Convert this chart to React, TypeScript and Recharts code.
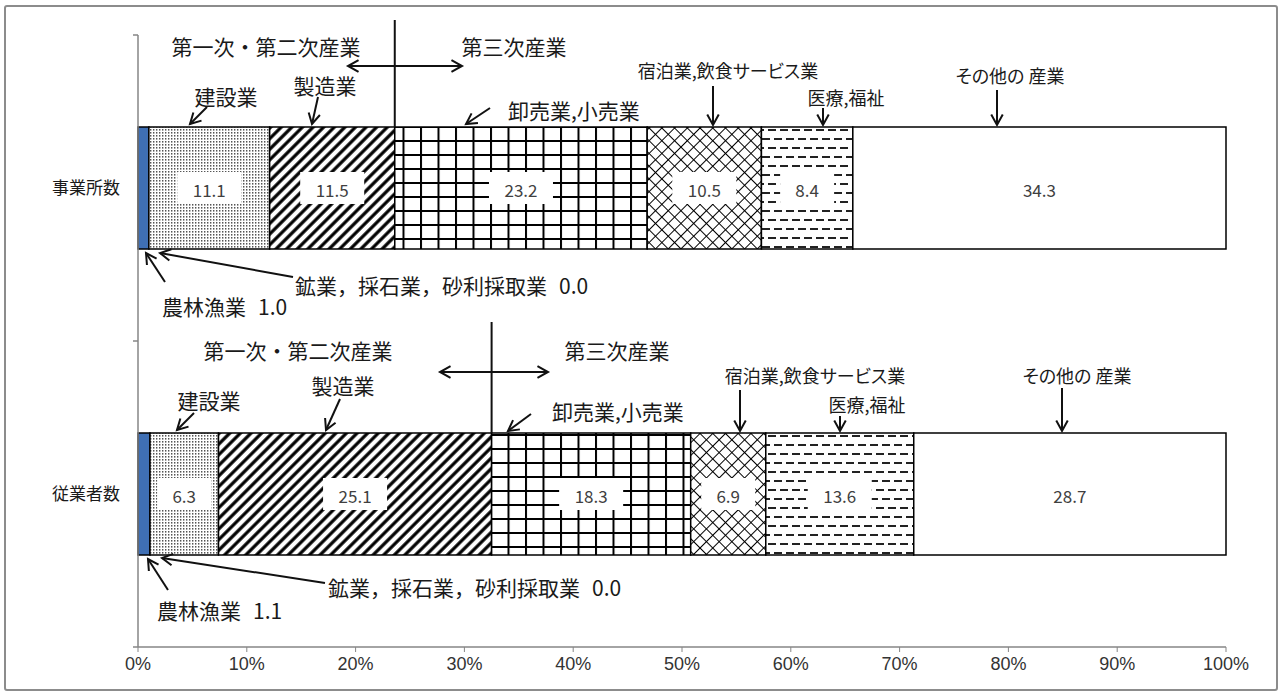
import React from 'react';
import { BarChart, Bar, XAxis, YAxis, LabelList } from 'recharts';

// values (%)
const categories = ['事業所数', '従業者数'];
const agriculture = [1.0, 1.1];
const mining = [0.0, 0.0];
const construction = [11.1, 6.3];
const manufacturing = [11.5, 25.1];
const wholesale = [23.2, 18.3];
const hospitality = [10.5, 6.9];
const medical = [8.4, 13.6];
const others = [34.3, 28.7];
const xTicks = [0, 10, 20, 30, 40, 50, 60, 70, 80, 90, 100];

const data = categories.map((name, i) => ({
  name,
  agriculture: agriculture[i],
  mining: mining[i],
  construction: construction[i],
  manufacturing: manufacturing[i],
  wholesale: wholesale[i],
  hospitality: hospitality[i],
  medical: medical[i],
  others: others[i],
}));

const W = 1283;
const H = 695;
const X_AXIS_H = 30;
const MARGIN = { top: 35, right: 57, bottom: 48 - X_AXIS_H, left: 0 };
const Y_AXIS_W = 138;
const PLOT_L = MARGIN.left + Y_AXIS_W;
const PLOT_R = W - MARGIN.right;
const PLOT_T = MARGIN.top;
const PLOT_B = H - MARGIN.bottom - X_AXIS_H;
const xAt = (v: number) => PLOT_L + (v / 100) * (PLOT_R - PLOT_L);

const FONT = '"Noto Sans CJK JP", "Noto Sans", sans-serif';
const AXIS_GRAY = '#868686';

const BoxLabel = (props: any) => {
  const vb = props.viewBox || props;
  const { x, y, width, height } = vb;
  const value = props.value;
  if (!value || width < 20) return null;
  const text = Number(value).toFixed(1);
  const cx = x + width / 2;
  const cy = y + height / 2;
  const bw = text.length * 10 + 24;
  return (
    <g>
      <rect x={cx - bw / 2} y={cy - 16} width={bw} height={32} fill="#fff" />
      <text x={cx} y={cy + 1} textAnchor="middle" dominantBaseline="central"
        fontSize={17} fill="#404040" fontFamily={FONT}>{text}</text>
    </g>
  );
};

function Arrow({ x1, y1, x2, y2, both = false }: any) {
  const head = 12;
  const s = 0.5;
  const tip = (ax: number, ay: number, bx: number, by: number) => {
    const a = Math.atan2(by - ay, bx - ax);
    const p1 = `${bx - head * Math.cos(a - s)},${by - head * Math.sin(a - s)}`;
    const p2 = `${bx - head * Math.cos(a + s)},${by - head * Math.sin(a + s)}`;
    return <polyline points={`${p1} ${bx},${by} ${p2}`} />;
  };
  return (
    <g stroke="#111" strokeWidth={2} fill="none">
      <line x1={x1} y1={y1} x2={x2} y2={y2} />
      {tip(x1, y1, x2, y2)}
      {both && tip(x2, y2, x1, y1)}
    </g>
  );
}

// annotation text
const T = ({ x, y, anchor = 'middle', size = 21, palt = false, children }: any) => (
  <text x={x} y={y} textAnchor={anchor} dominantBaseline="central"
    fontSize={size} fill="#1a1a1a" fontFamily={FONT}
    style={palt ? { fontFeatureSettings: '"palt"' } : undefined}>{children}</text>
);

// name followed by a value with a gap, e.g. 農林漁業  1.0
const NV = ({ x, y, name, value }: any) => (
  <T x={x} y={y} anchor="start">{name}<tspan dx={12}>{value}</tspan></T>
);

export default function App() {
  // boundary between secondary and tertiary industries, per row
  const split = data.map(d => d.agriculture + d.mining + d.construction + d.manufacturing);
  const top1 = 127;
  const top2 = 433;

  return (
    <div style={{ position: 'fixed', left: 0, top: 0, width: W, height: H, background: '#fff' }}>
      <svg width={0} height={0} style={{ position: 'absolute' }}>
        <defs>
          <pattern id="pDots" patternUnits="userSpaceOnUse" width="3" height="3">
            <rect width="3" height="3" fill="#fff" />
            <rect width="1.4" height="1.6" fill="#555" />
          </pattern>
          <pattern id="pDiag" patternUnits="userSpaceOnUse" width="7.5" height="7.5" patternTransform="rotate(45)">
            <rect width="7.5" height="7.5" fill="#fff" />
            <line x1="3.75" y1="0" x2="3.75" y2="7.5" stroke="#000" strokeWidth="3.2" />
          </pattern>
          <pattern id="pGrid" patternUnits="userSpaceOnUse" width="17.5" height="14">
            <rect width="17.5" height="14" fill="#fff" />
            <rect x="0" y="0" width="2" height="14" fill="#000" />
            <rect x="0" y="0" width="17.5" height="2" fill="#000" />
          </pattern>
          <pattern id="pCross" patternUnits="userSpaceOnUse" width="9" height="9" patternTransform="rotate(45)">
            <rect width="9" height="9" fill="#fff" />
            <line x1="0" y1="0.5" x2="9" y2="0.5" stroke="#000" strokeWidth="1" />
            <line x1="0.5" y1="0" x2="0.5" y2="9" stroke="#000" strokeWidth="1" />
          </pattern>
          <pattern id="pDash" patternUnits="userSpaceOnUse" width="24" height="18">
            <rect width="24" height="18" fill="#fff" />
            <rect x="0" y="3" width="8" height="2" fill="#222" />
            <rect x="12" y="3" width="8" height="2" fill="#222" />
            <rect x="6" y="12" width="8" height="2" fill="#222" />
            <rect x="18" y="12" width="6" height="2" fill="#222" />
            <rect x="0" y="12" width="2" height="2" fill="#222" />
          </pattern>
        </defs>
      </svg>

      <div style={{
        position: 'absolute', left: 4, top: 5, width: 1270, height: 682,
        border: '2px solid #8c8c8c', borderRadius: 3,
      }} />

      <div style={{ position: 'absolute', left: 0, top: 0 }}>
        <BarChart width={W} height={H} data={data} layout="vertical" margin={MARGIN} barSize={122}>
          <XAxis
            type="number" domain={[0, 100]} ticks={xTicks} interval={0} height={X_AXIS_H}
            tickFormatter={(v: number) => `${v}%`}
            tick={{ fill: '#333', fontSize: 18, fontFamily: '"Liberation Sans Narrow", "Liberation Sans", sans-serif' }}
            tickSize={5} tickMargin={5}
            stroke={AXIS_GRAY} axisLine={{ stroke: AXIS_GRAY, strokeWidth: 1.5 }}
          />
          <YAxis
            type="category" dataKey="name" width={Y_AXIS_W}
            tick={{ fill: '#1a1a1a', fontSize: 17, fontFamily: FONT }}
            tickLine={false} tickSize={5} tickMargin={13}
            axisLine={{ stroke: AXIS_GRAY, strokeWidth: 1.5 }}
          />
          <Bar dataKey="agriculture" stackId="a" fill="#3f6fb4" stroke="#000" strokeWidth={1.5} isAnimationActive={false} />
          <Bar dataKey="mining" stackId="a" fill="#fff" stroke="#000" strokeWidth={1.5} isAnimationActive={false} />
          <Bar dataKey="construction" stackId="a" fill="url(#pDots)" stroke="#000" strokeWidth={1.5} isAnimationActive={false}>
            <LabelList dataKey="construction" content={BoxLabel} />
          </Bar>
          <Bar dataKey="manufacturing" stackId="a" fill="url(#pDiag)" stroke="#000" strokeWidth={1.5} isAnimationActive={false}>
            <LabelList dataKey="manufacturing" content={BoxLabel} />
          </Bar>
          <Bar dataKey="wholesale" stackId="a" fill="url(#pGrid)" stroke="#000" strokeWidth={1.5} isAnimationActive={false}>
            <LabelList dataKey="wholesale" content={BoxLabel} />
          </Bar>
          <Bar dataKey="hospitality" stackId="a" fill="url(#pCross)" stroke="#000" strokeWidth={1.5} isAnimationActive={false}>
            <LabelList dataKey="hospitality" content={BoxLabel} />
          </Bar>
          <Bar dataKey="medical" stackId="a" fill="url(#pDash)" stroke="#000" strokeWidth={1.5} isAnimationActive={false}>
            <LabelList dataKey="medical" content={BoxLabel} />
          </Bar>
          <Bar dataKey="others" stackId="a" fill="#fff" stroke="#000" strokeWidth={1.5} isAnimationActive={false}>
            <LabelList dataKey="others" content={BoxLabel} />
          </Bar>
        </BarChart>
      </div>

      {/* annotations */}
      <svg width={W} height={H} style={{ position: 'absolute', left: 0, top: 0, pointerEvents: 'none' }}>
        {/* y-axis ticks at band boundaries */}
        {[PLOT_T, (PLOT_T + PLOT_B) / 2, PLOT_B].map(y => (
          <line key={y} x1={PLOT_L - 5} y1={y} x2={PLOT_L} y2={y} stroke={AXIS_GRAY} strokeWidth={1.5} />
        ))}

        {/* row 1 */}
        <line x1={xAt(split[0])} y1={20} x2={xAt(split[0])} y2={top1} stroke="#111" strokeWidth={2} />
        <Arrow x1={348} y1={66} x2={462} y2={66} both />
        <T x={266} y={46}>第一次・第二次産業</T>
        <T x={514} y={46}>第三次産業</T>
        <T x={226} y={96}>建設業</T>
        <Arrow x1={207} y1={107} x2={190} y2={top1 - 3} />
        <T x={325} y={85}>製造業</T>
        <Arrow x1={318} y1={97} x2={312} y2={top1 - 3} />
        <T x={508} y={110} anchor="start">卸売業,小売業</T>
        <Arrow x1={490} y1={108} x2={466} y2={top1 - 3} />
        <T x={728} y={70} size={18} palt>宿泊業,飲食サービス業</T>
        <Arrow x1={713} y1={86} x2={713} y2={top1 - 2} />
        <T x={846} y={97} size={18} palt>医療,福祉</T>
        <Arrow x1={823} y1={108} x2={823} y2={top1 - 2} />
        <T x={1010} y={75} size={18} palt>その他の 産業</T>
        <Arrow x1={997} y1={90} x2={997} y2={top1 - 2} />
        <Arrow x1={165} y1={282} x2={146} y2={top1 + 126} />
        <Arrow x1={293} y1={277} x2={160} y2={top1 + 126} />
        <NV x={295} y={285} name="鉱業，採石業，砂利採取業" value="0.0" />
        <NV x={162} y={306} name="農林漁業" value="1.0" />

        {/* row 2 */}
        <line x1={xAt(split[1])} y1={322} x2={xAt(split[1])} y2={top2} stroke="#111" strokeWidth={2} />
        <Arrow x1={440} y1={372} x2={548} y2={372} both />
        <T x={298} y={350}>第一次・第二次産業</T>
        <T x={617} y={350}>第三次産業</T>
        <T x={209} y={400}>建設業</T>
        <Arrow x1={194} y1={413} x2={177} y2={top2 - 3} />
        <T x={343} y={385}>製造業</T>
        <Arrow x1={340} y1={399} x2={326} y2={top2 - 3} />
        <T x={552} y={411} anchor="start">卸売業,小売業</T>
        <Arrow x1={531} y1={414} x2={508} y2={top2 - 2} />
        <T x={815} y={375} size={18} palt>宿泊業,飲食サービス業</T>
        <Arrow x1={740} y1={390} x2={740} y2={top2 - 2} />
        <T x={867} y={404} size={18} palt>医療,福祉</T>
        <Arrow x1={840} y1={416} x2={840} y2={top2 - 2} />
        <T x={1077} y={375} size={18} palt>その他の 産業</T>
        <Arrow x1={1062} y1={388} x2={1062} y2={top2 - 2} />
        <Arrow x1={168} y1={590} x2={148} y2={top2 + 126} />
        <Arrow x1={325} y1={583} x2={162} y2={top2 + 125} />
        <NV x={328} y={587} name="鉱業，採石業，砂利採取業" value="0.0" />
        <NV x={157} y={610} name="農林漁業" value="1.1" />
      </svg>
    </div>
  );
}
